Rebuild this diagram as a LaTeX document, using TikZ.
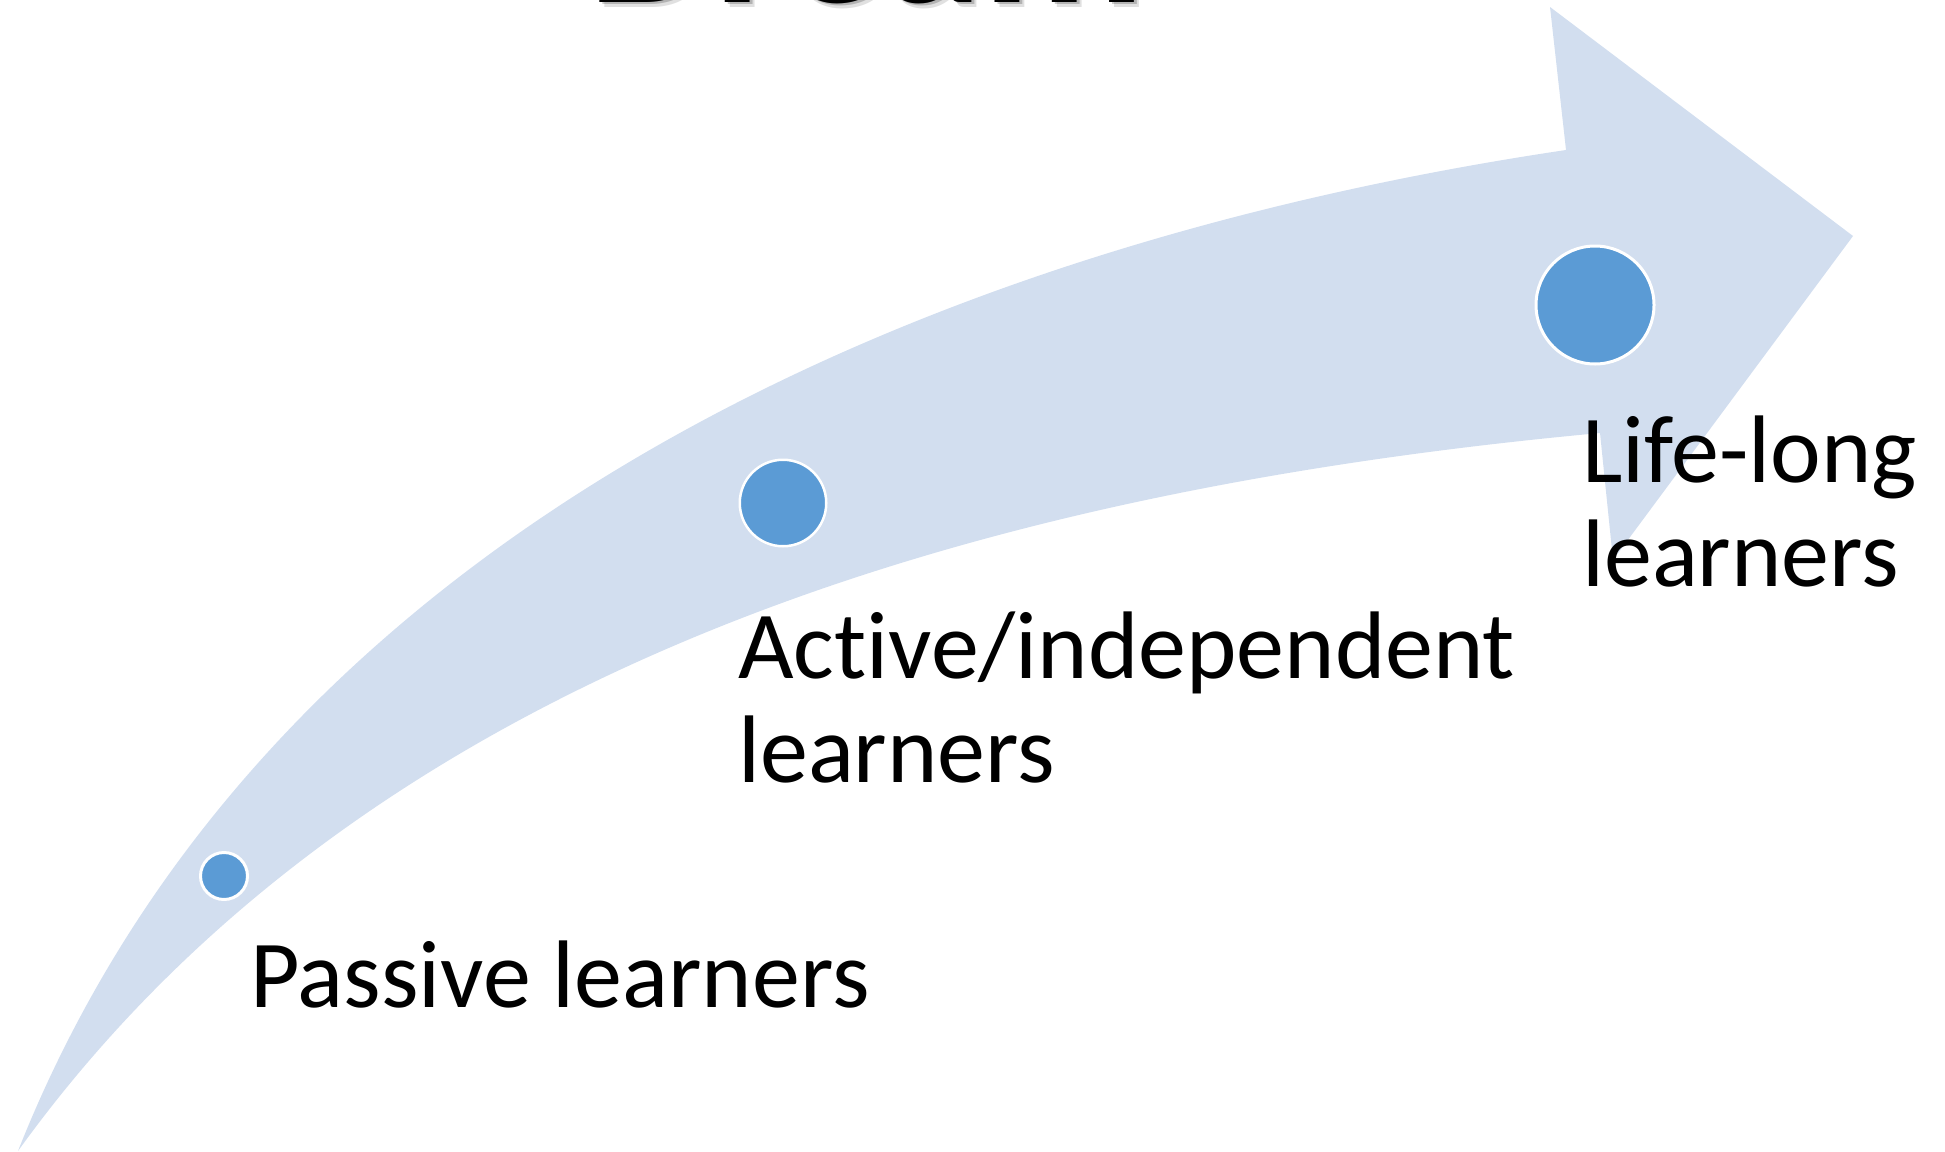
\documentclass[tikz,border=0pt]{standalone}
\usepackage{fontspec}
\setmainfont{Carlito}[Ligatures={NoCommon}]
\definecolor{bandblue}{HTML}{D2DEEF}
\definecolor{dotblue}{HTML}{5B9BD5}
\tikzset{
  dot/.style={circle, fill=dotblue, draw=white, inner sep=0pt},
  lbl/.style={anchor=base west, inner sep=0pt, font=\fontsize{96}{104}\selectfont, text=black},
  titletext/.style={anchor=base west, inner sep=0pt, font=\fontsize{200}{240}\selectfont\bfseries},
}
\begin{document}
\begin{tikzpicture}[x=1pt,y=-1pt]
\useasboundingbox (0,0) rectangle (1945,1151);
\clip (0,0) rectangle (1945,1151);
% curved arrow band
\fill[bandblue] (18,1151)
  .. controls (267,522) and (940,243) .. (1566,150)
  -- (1550,7) -- (1853,236) -- (1613,560) -- (1600,433)
  .. controls (1017,487) and (379,650) .. (18,1151) -- cycle;
% cut-off title with soft shadow
\node[titletext, text=black, opacity=0.12] (dreamsh1) at (593,7) {Dream};
\node[titletext, text=black, opacity=0.2] (dreamsh2) at (591,5) {Dream};
\node[titletext, text=black] (dream) at (588,2) {Dream};
% stage dots
\node[dot, minimum size=47pt, line width=3pt] (pdot) at (224,876) {};
\node[dot, minimum size=86.5pt, line width=2.5pt] (adot) at (783,503) {};
\node[dot, minimum size=118pt, line width=3pt] (ldot) at (1595,305) {};
% labels
\node[lbl] (ptext) at (250,1007) {Passive learners};
\node[lbl] (atext) at (738,678) {\begin{tabular}[t]{@{}l@{}}Active/independent\\learners\end{tabular}};
\node[lbl] (ltext) at (1582,482) {\begin{tabular}[t]{@{}l@{}}Life-long\\learners\end{tabular}};
\end{tikzpicture}
\end{document}
